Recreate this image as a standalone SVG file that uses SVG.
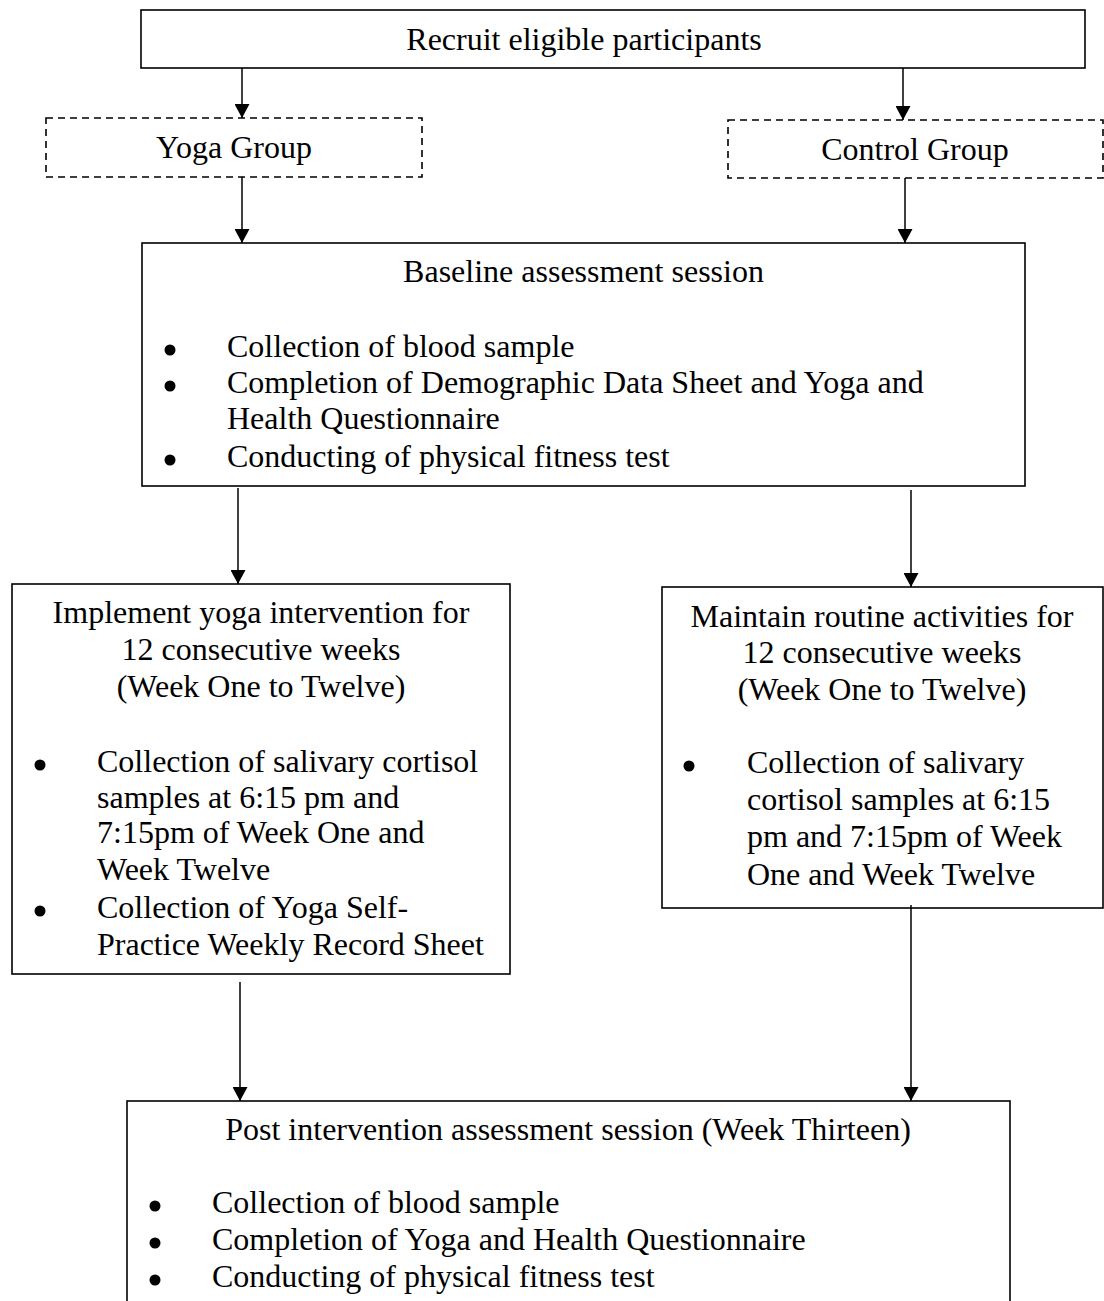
<svg xmlns="http://www.w3.org/2000/svg" width="1104" height="1301" viewBox="0 0 1104 1301">
<style>
.box{fill:#fff;stroke:#000;stroke-width:1.6}
.dash{fill:#fff;stroke:#000;stroke-width:1.6;stroke-dasharray:7 5}
text{font-family:"Liberation Serif","Times New Roman",serif;font-size:32px;fill:#000}
.c{text-anchor:middle}
.bl{fill:#000}
.conn line{stroke:#000;stroke-width:1.5;marker-end:url(#ah)}
</style>
<defs>
<marker id="ah" markerUnits="userSpaceOnUse" markerWidth="15" markerHeight="15" refX="14" refY="7.5" orient="auto">
<path d="M0,0 L14,7.5 L0,15 z" fill="#000"/>
</marker>
</defs>
<rect width="1104" height="1301" fill="#fff"/>
<g id="recruit">
<rect class="box" x="141" y="10" width="944" height="58"/>
<text class="c" x="584" y="50">Recruit eligible participants</text>
</g>
<g id="yoga-group">
<rect class="dash" x="46" y="118" width="376" height="59"/>
<text class="c" x="234" y="158">Yoga Group</text>
</g>
<g id="control-group">
<rect class="dash" x="728" y="120" width="375" height="58"/>
<text class="c" x="915" y="160">Control Group</text>
</g>
<g id="baseline">
<rect class="box" x="142" y="243" width="883" height="243"/>
<text class="c" x="583.5" y="282">Baseline assessment session</text>
<circle class="bl" cx="170" cy="350" r="5.5"/>
<text x="227" y="357">Collection of blood sample</text>
<circle class="bl" cx="170" cy="386" r="5.5"/>
<text x="227" y="393">Completion of Demographic Data Sheet and Yoga and</text>
<text x="227" y="429">Health Questionnaire</text>
<circle class="bl" cx="170" cy="460" r="5.5"/>
<text x="227" y="467">Conducting of physical fitness test</text>
</g>
<g id="implement">
<rect class="box" x="12" y="584" width="498" height="390"/>
<text class="c" x="261" y="623">Implement yoga intervention for</text>
<text class="c" x="261" y="660">12 consecutive weeks</text>
<text class="c" x="261" y="697">(Week One to Twelve)</text>
<circle class="bl" cx="40" cy="765" r="5.5"/>
<text x="97" y="772">Collection of salivary cortisol</text>
<text x="97" y="808">samples at 6:15 pm and</text>
<text x="97" y="843">7:15pm of Week One and</text>
<text x="97" y="880">Week Twelve</text>
<circle class="bl" cx="40" cy="911" r="5.5"/>
<text x="97" y="918">Collection of Yoga Self-</text>
<text x="97" y="955">Practice Weekly Record Sheet</text>
</g>
<g id="maintain">
<rect class="box" x="662" y="587" width="441" height="321"/>
<text class="c" x="882" y="627">Maintain routine activities for</text>
<text class="c" x="882" y="663">12 consecutive weeks</text>
<text class="c" x="882" y="700">(Week One to Twelve)</text>
<circle class="bl" cx="689" cy="766" r="5.5"/>
<text x="747" y="773">Collection of salivary</text>
<text x="747" y="810">cortisol samples at 6:15</text>
<text x="747" y="847">pm and 7:15pm of Week</text>
<text x="747" y="885">One and Week Twelve</text>
</g>
<g id="post">
<rect class="box" x="127" y="1101" width="883" height="215"/>
<text class="c" x="568" y="1140">Post intervention assessment session (Week Thirteen)</text>
<circle class="bl" cx="155" cy="1206" r="5.5"/>
<text x="212" y="1213">Collection of blood sample</text>
<circle class="bl" cx="155" cy="1243" r="5.5"/>
<text x="212" y="1250">Completion of Yoga and Health Questionnaire</text>
<circle class="bl" cx="155" cy="1280" r="5.5"/>
<text x="212" y="1287">Conducting of physical fitness test</text>
</g>
<g id="connectors" class="conn">
<line x1="242" y1="68" x2="242" y2="118"/>
<line x1="903" y1="68" x2="903" y2="120"/>
<line x1="242" y1="177" x2="242" y2="243"/>
<line x1="905" y1="178" x2="905" y2="243"/>
<line x1="238" y1="488" x2="238" y2="584"/>
<line x1="911" y1="490" x2="911" y2="587"/>
<line x1="240" y1="982" x2="240" y2="1101"/>
<line x1="911" y1="905" x2="911" y2="1101"/>
</g>
</svg>
